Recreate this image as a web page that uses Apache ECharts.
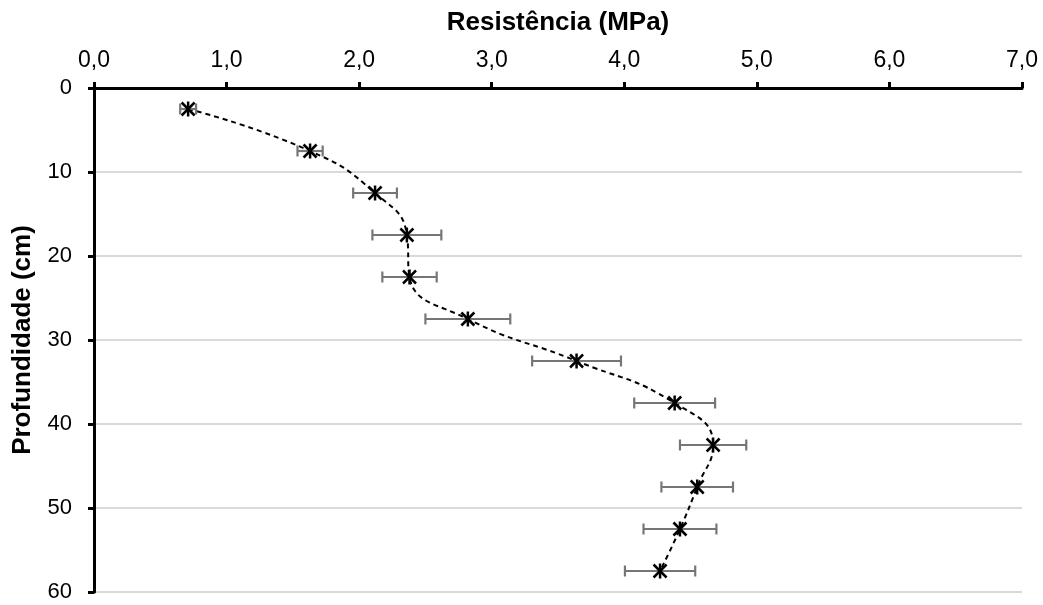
<!DOCTYPE html>
<html>
<head>
<meta charset="utf-8">
<script src="https://cdn.jsdelivr.net/npm/echarts@6/dist/echarts.min.js"></script>
<style>
    html, body { margin: 0; padding: 0; background: #fff; }
    #chart { width: 1043px; height: 605px; }
</style>
</head>
<body>
<div id="chart"></div>
<script>
// profundidade (cm) e resistência média (MPa) com desvio
var depths = [2.5, 7.5, 12.5, 17.5, 22.5, 27.5, 32.5, 37.5, 42.5, 47.5, 52.5, 57.5];
var resist = [0.71, 1.63, 2.12, 2.36, 2.38, 2.82, 3.64, 4.38, 4.67, 4.55, 4.42, 4.27];
var errors = [0.06, 0.095, 0.165, 0.26, 0.205, 0.32, 0.335, 0.305, 0.25, 0.27, 0.275, 0.265];
var xTicks = { min: 0, max: 7, step: 1 };
var yTicks = { min: 0, max: 60, step: 10 };

var chart = echarts.init(document.getElementById('chart'));

var lineData = [];
var barData = [];
for (var i = 0; i < depths.length; i++) {
    lineData.push([resist[i], depths[i]]);
    barData.push([resist[i], depths[i], errors[i]]);
}

var font = 'Liberation Sans, Arial, sans-serif';

var option = {
    backgroundColor: '#fff',
    animation: false,
    grid: { left: 94, right: 21, top: 88, bottom: 13 },
    xAxis: {
        type: 'value',
        position: 'top',
        min: xTicks.min, max: xTicks.max, interval: xTicks.step,
        name: 'Resistência (MPa)',
        nameLocation: 'middle',
        nameGap: 52,
        nameTextStyle: { color: '#000', fontSize: 26, fontWeight: 'bold', fontFamily: font },
        axisLine: { onZero: false, lineStyle: { color: '#000', width: 3 } },
        axisTick: { show: true, length: 6, lineStyle: { color: '#000', width: 3 } },
        axisLabel: {
            color: '#000', fontSize: 23, fontFamily: font, margin: 16,
            formatter: function (v) { return v.toFixed(1).replace('.', ','); }
        },
        splitLine: { show: false }
    },
    yAxis: {
        type: 'value',
        inverse: true,
        min: yTicks.min, max: yTicks.max, interval: yTicks.step,
        name: 'Profundidade (cm)',
        nameLocation: 'middle',
        nameGap: 58,
        nameRotate: 90,
        nameTextStyle: { color: '#000', fontSize: 26, fontWeight: 'bold', fontFamily: font },
        axisLine: { onZero: false, lineStyle: { color: '#000', width: 3 } },
        axisTick: { show: true, length: 6, lineStyle: { color: '#000', width: 3 } },
        axisLabel: { color: '#000', fontSize: 22, fontFamily: font, margin: 22 },
        splitLine: { show: true, lineStyle: { color: '#d9d9d9', width: 2 } }
    },
    series: [
        {
            type: 'line',
            data: lineData,
            smooth: 0.5,
            symbol: 'none',
            z: 2,
            lineStyle: { color: '#000', width: 2, type: [5, 4] }
        },
        {
            type: 'custom',
            data: barData,
            z: 3,
            renderItem: function (params, api) {
                var x = api.value(0), y = api.value(1), e = api.value(2);
                var p = api.coord([x, y]);
                var lo = api.coord([x - e, y]);
                var hi = api.coord([x + e, y]);
                var gray = { stroke: '#767676', lineWidth: 2.2 };
                var blk = { stroke: '#000', lineWidth: 2.5 };
                var s = 6.5;
                return {
                    type: 'group',
                    children: [
                        { type: 'line', shape: { x1: lo[0], y1: p[1], x2: hi[0], y2: p[1] }, style: gray },
                        { type: 'line', shape: { x1: lo[0], y1: p[1] - 5.5, x2: lo[0], y2: p[1] + 5.5 }, style: gray },
                        { type: 'line', shape: { x1: hi[0], y1: p[1] - 5.5, x2: hi[0], y2: p[1] + 5.5 }, style: gray },
                        { type: 'line', shape: { x1: p[0] - s, y1: p[1] - s, x2: p[0] + s, y2: p[1] + s }, style: blk },
                        { type: 'line', shape: { x1: p[0] - s, y1: p[1] + s, x2: p[0] + s, y2: p[1] - s }, style: blk },
                        { type: 'line', shape: { x1: p[0], y1: p[1] - s - 1, x2: p[0], y2: p[1] + s + 1 }, style: blk }
                    ]
                };
            }
        }
    ]
};

chart.setOption(option);
</script>
</body>
</html>
